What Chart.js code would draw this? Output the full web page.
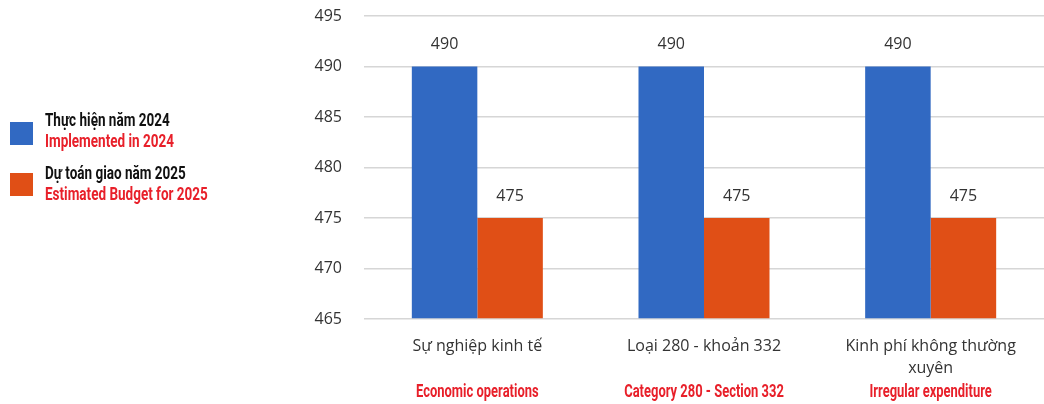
<!DOCTYPE html>
<html lang="vi">
<head>
    <meta charset="UTF-8">
    <title>Thực hiện 2024 / Dự toán 2025</title>
    <script src="https://cdn.jsdelivr.net/npm/chart.js"></script>
    <style>
        html, body { margin: 0; padding: 0; background: #fff; }
        .wrap { position: relative; width: 1044px; height: 404px; }
        canvas { position: absolute; left: 0; top: 0; }
        .legend { position: absolute; left: 0; top: 0; font-family: Roboto, sans-serif; font-weight: bold; font-size: 18px; }
        .legend .box { position: absolute; left: 10px; width: 23px; height: 23px; }
        .legend .txt { position: absolute; left: 45px; line-height: 21px; white-space: nowrap; transform: scaleX(0.75); transform-origin: 0 0; }
        .legend .vn { color: #111; }
        .legend .en { color: #e8202a; }
    </style>
</head>
<body>
    <div class="wrap">
        <canvas id="budgetChart" width="1044" height="404"></canvas>
        <div class="legend">
            <div class="box" style="top:122px;background:#3169c2"></div>
            <div class="txt" style="top:109px"><div class="vn">Thực hiện năm 2024</div><div class="en">Implemented in 2024</div></div>
            <div class="box" style="top:173px;background:#e04f16"></div>
            <div class="txt" style="top:162px"><div class="vn">Dự toán giao năm 2025</div><div class="en">Estimated Budget for 2025</div></div>
        </div>
    </div>
    <script>
        // data
        const categories = ['Sự nghiệp kinh tế', 'Loại 280 - khoản 332', ['Kinh phí không thường', 'xuyên']];
        const categoriesEn = ['Economic operations', 'Category 280 - Section 332', 'Irregular expenditure'];
        const implemented2024 = [490, 490, 490];
        const budget2025 = [475, 475, 475];
        const yMin = 465, yMax = 495, yStep = 5;

        const textFont = '"Open Sans", "Noto Sans", sans-serif';

        // value labels above bars + english names under categories
        const extraText = {
            id: 'extraText',
            afterDatasetsDraw(chart) {
                const ctx = chart.ctx;
                ctx.save();
                ctx.fillStyle = '#333';
                ctx.font = '16px ' + textFont;
                ctx.textAlign = 'center';
                ctx.textBaseline = 'middle';
                chart.data.datasets.forEach((ds, i) => {
                    chart.getDatasetMeta(i).data.forEach((bar, j) => {
                        ctx.fillText(ds.data[j], bar.x, bar.y - 22);
                    });
                });
                const xs = chart.scales.x;
                ctx.fillStyle = '#e8202a';
                ctx.font = 'bold 18px Roboto, sans-serif';
                categoriesEn.forEach((t, j) => {
                    ctx.save();
                    ctx.translate(xs.getPixelForValue(j), 392);
                    ctx.scale(0.72, 1);
                    ctx.fillText(t, 0, 0);
                    ctx.restore();
                });
                ctx.restore();
            }
        };

        new Chart(document.getElementById('budgetChart'), {
            type: 'bar',
            data: {
                labels: categories,
                datasets: [{
                    label: 'Thực hiện năm 2024',
                    data: implemented2024,
                    backgroundColor: '#3169c2'
                }, {
                    label: 'Dự toán giao năm 2025',
                    data: budget2025,
                    backgroundColor: '#e04f16'
                }]
            },
            options: {
                responsive: false,
                animation: false,
                layout: { padding: { top: 16, right: 0, left: 0, bottom: 0 } },
                datasets: { bar: { categoryPercentage: 0.578, barPercentage: 1, base: yMin } },
                plugins: {
                    legend: { display: false },
                    title: { display: false },
                    tooltip: { enabled: false }
                },
                scales: {
                    x: {
                        grid: { display: false },
                        border: { display: false },
                        ticks: { color: '#333', font: { family: textFont, size: 16, lineHeight: 1.4 }, padding: 8, maxRotation: 0 },
                        afterFit(scale) { scale.height = 85; }
                    },
                    y: {
                        min: yMin,
                        max: yMax,
                        grid: { color: '#d6d6d6', lineWidth: 1.5, drawTicks: false },
                        border: { display: false },
                        ticks: { stepSize: yStep, color: '#333', font: { family: textFont, size: 16 }, padding: 22 },
                        afterFit(scale) {
                            scale.width = 364;
                            scale.paddingTop = 0;
                            scale.paddingBottom = 0;
                        }
                    }
                }
            },
            plugins: [extraText]
        });
    </script>
</body>
</html>
